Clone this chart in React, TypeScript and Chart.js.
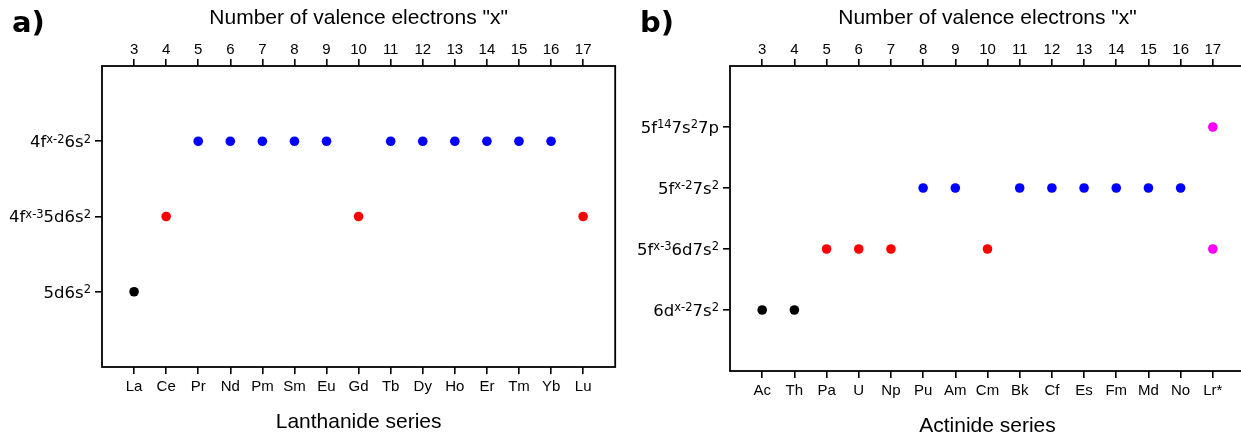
import React, { useEffect, useRef } from "react";
import { Chart, registerables } from "chart.js";

Chart.register(...registerables);

// ---------- data ----------
const valenceElectrons = [3, 4, 5, 6, 7, 8, 9, 10, 11, 12, 13, 14, 15, 16, 17];
const lanthanides = ["La", "Ce", "Pr", "Nd", "Pm", "Sm", "Eu", "Gd", "Tb", "Dy", "Ho", "Er", "Tm", "Yb", "Lu"];
const actinides = ["Ac", "Th", "Pa", "U", "Np", "Pu", "Am", "Cm", "Bk", "Cf", "Es", "Fm", "Md", "No", "Lr*"];

// configuration labels (bottom to top), ^{...} marks a superscript
const lanthanideConfigs = ["5d6s^{2}", "4f^{x-3}5d6s^{2}", "4f^{x-2}6s^{2}"];
const actinideConfigs = ["6d^{x-2}7s^{2}", "5f^{x-3}6d7s^{2}", "5f^{x-2}7s^{2}", "5f^{14}7s^{2}7p"];

// ground-state configuration index of each element (null = shown as uncertain)
const lanthanideGround: (number | null)[] = [0, 1, 2, 2, 2, 2, 2, 1, 2, 2, 2, 2, 2, 2, 1];
const actinideGround: (number | null)[] = [0, 0, 1, 1, 1, 2, 2, 1, 2, 2, 2, 2, 2, 2, null];
// candidate configurations for Lr*
const lawrenciumCandidates = [1, 3];

const groupColors = ["#000000", "#ff0000", "#0000ff"];
const uncertainColor = "#ff00ff";

const SANS = '"Liberation Sans", Arial, sans-serif';
const DEJAVU = '"DejaVu Sans", Verdana, sans-serif';

function parseRich(label: string) {
  const parts: { text: string; sup: boolean }[] = [];
  const re = /\^\{([^}]*)\}/g;
  let last = 0;
  let m: RegExpExecArray | null;
  while ((m = re.exec(label))) {
    if (m.index > last) parts.push({ text: label.slice(last, m.index), sup: false });
    parts.push({ text: m[1], sup: true });
    last = re.lastIndex;
  }
  if (last < label.length) parts.push({ text: label.slice(last), sup: false });
  return parts;
}

const decorPlugin = {
  id: "decor",
  afterDraw(chart: any, _args: any, opts: any) {
    const { ctx, chartArea } = chart;
    const yScale = chart.scales.y;
    ctx.save();
    ctx.fillStyle = "#000";
    ctx.textBaseline = "alphabetic";
    ctx.textAlign = "left";
    const mainFont = `16.5px ${DEJAVU}`;
    const supFont = `11.5px ${DEJAVU}`;
    (opts.labels as string[]).forEach((label, i) => {
      const y = yScale.getPixelForValue(i + 1) + 0.36 * 16.5;
      const parts = parseRich(label);
      let w = 0;
      parts.forEach((p) => {
        ctx.font = p.sup ? supFont : mainFont;
        w += ctx.measureText(p.text).width;
      });
      let x = chartArea.left - 11 - w;
      parts.forEach((p) => {
        ctx.font = p.sup ? supFont : mainFont;
        ctx.fillText(p.text, x, p.sup ? y - 4.5 : y);
        x += ctx.measureText(p.text).width;
      });
    });
    // frame
    ctx.lineWidth = 1.8;
    ctx.strokeStyle = "#000";
    ctx.strokeRect(chartArea.left, chartArea.top, chartArea.right - chartArea.left, chartArea.bottom - chartArea.top);
    // panel letter
    ctx.font = `bold 29px ${DEJAVU}`;
    ctx.fillText(opts.panel, opts.panelX, 32);
    ctx.restore();
  },
};

function buildDatasets(ground: (number | null)[], extra?: number[]) {
  const ds: any[] = groupColors.map((color, g) => ({
    xAxisID: "x",
    yAxisID: "y",
    data: valenceElectrons
      .map((x, i) => (ground[i] === g ? { x, y: g + 1 } : null))
      .filter(Boolean),
    backgroundColor: color,
    borderColor: color,
    pointRadius: 4.8,
    pointBorderWidth: 0,
    showLine: false,
  }));
  if (extra) {
    const idx = ground.findIndex((g) => g === null);
    ds.push({
      xAxisID: "x",
      yAxisID: "y",
      data: extra.map((c) => ({ x: valenceElectrons[idx], y: c + 1 })),
      backgroundColor: uncertainColor,
      borderColor: uncertainColor,
      pointRadius: 4.8,
      pointBorderWidth: 0,
      showLine: false,
    });
  }
  return ds;
}

interface PanelProps {
  elements: string[];
  configs: string[];
  ground: (number | null)[];
  extra?: number[];
  seriesTitle: string;
  panel: string;
  panelX: number;
  yWidth: number;
  rightPad: number;
  bottomH: number;
}

function Panel(p: PanelProps) {
  const ref = useRef<HTMLCanvasElement>(null);
  useEffect(() => {
    if (!ref.current) return;
    const tickFont = { family: SANS, size: 15 };
    const titleFont = { family: SANS, size: 21 };
    const grid = { drawOnChartArea: false, drawTicks: true, tickLength: 7, color: "#000", lineWidth: 1.6 };
    const setTicks = (s: any) => {
      s.ticks = valenceElectrons.map((v) => ({ value: v }));
    };
    const chart = new Chart(ref.current, {
      type: "scatter",
      data: { datasets: buildDatasets(p.ground, p.extra) },
      plugins: [decorPlugin as any],
      options: {
        animation: false,
        responsive: true,
        maintainAspectRatio: false,
        events: [],
        layout: { padding: { left: 0, right: p.rightPad, top: 0, bottom: 0 } },
        plugins: {
          legend: { display: false },
          tooltip: { enabled: false },
          decor: { labels: p.configs, panel: p.panel, panelX: p.panelX },
        } as any,
        scales: {
          x: {
            type: "linear",
            position: "bottom",
            min: 2,
            max: 18,
            afterBuildTicks: setTicks,
            afterFit: (s: any) => {
              s.height = p.bottomH;
            },
            ticks: {
              autoSkip: false,
              maxRotation: 0,
              padding: 4,
              color: "#000",
              font: tickFont,
              callback: (v: any) => p.elements[valenceElectrons.indexOf(Number(v))] ?? "",
            },
            grid,
            border: { display: false },
            title: { display: true, text: p.seriesTitle, color: "#000", font: titleFont, padding: { top: 0, bottom: 0 } },
          },
          xTop: {
            type: "linear",
            position: "top",
            min: 2,
            max: 18,
            afterBuildTicks: setTicks,
            afterFit: (s: any) => {
              s.height = 66;
            },
            ticks: {
              autoSkip: false,
              maxRotation: 0,
              padding: 0,
              color: "#000",
              font: tickFont,
              callback: (v: any) => String(v),
            },
            grid,
            border: { display: false },
            title: {
              display: true,
              text: 'Number of valence electrons "x"',
              color: "#000",
              font: titleFont,
              padding: { top: 6, bottom: 0 },
            },
          },
          y: {
            type: "linear",
            position: "left",
            min: 0,
            max: p.configs.length + 1,
            afterBuildTicks: (s: any) => {
              s.ticks = p.configs.map((_, i) => ({ value: i + 1 }));
            },
            afterFit: (s: any) => {
              s.width = p.yWidth;
            },
            ticks: { callback: () => "" },
            grid,
            border: { display: false },
          },
        } as any,
      },
    });
    return () => chart.destroy();
  }, []);
  return <canvas ref={ref} />;
}

export default function App() {
  return (
    <div
      style={{
        position: "fixed",
        left: 0,
        top: 0,
        width: 1241,
        height: 432,
        overflow: "hidden",
        background: "#fff",
      }}
    >
      <div style={{ position: "absolute", left: 0, top: 0, width: 620, height: 435 }}>
        <Panel
          elements={lanthanides}
          configs={lanthanideConfigs}
          ground={lanthanideGround}
          seriesTitle="Lanthanide series"
          panel="a)"
          panelX={12}
          yWidth={102}
          rightPad={4}
          bottomH={68}
        />
      </div>
      <div style={{ position: "absolute", left: 620, top: 0, width: 640, height: 439 }}>
        <Panel
          elements={actinides}
          configs={actinideConfigs}
          ground={actinideGround}
          extra={lawrenciumCandidates}
          seriesTitle="Actinide series"
          panel="b)"
          panelX={20}
          yWidth={110}
          rightPad={15}
          bottomH={68}
        />
      </div>
    </div>
  );
}
